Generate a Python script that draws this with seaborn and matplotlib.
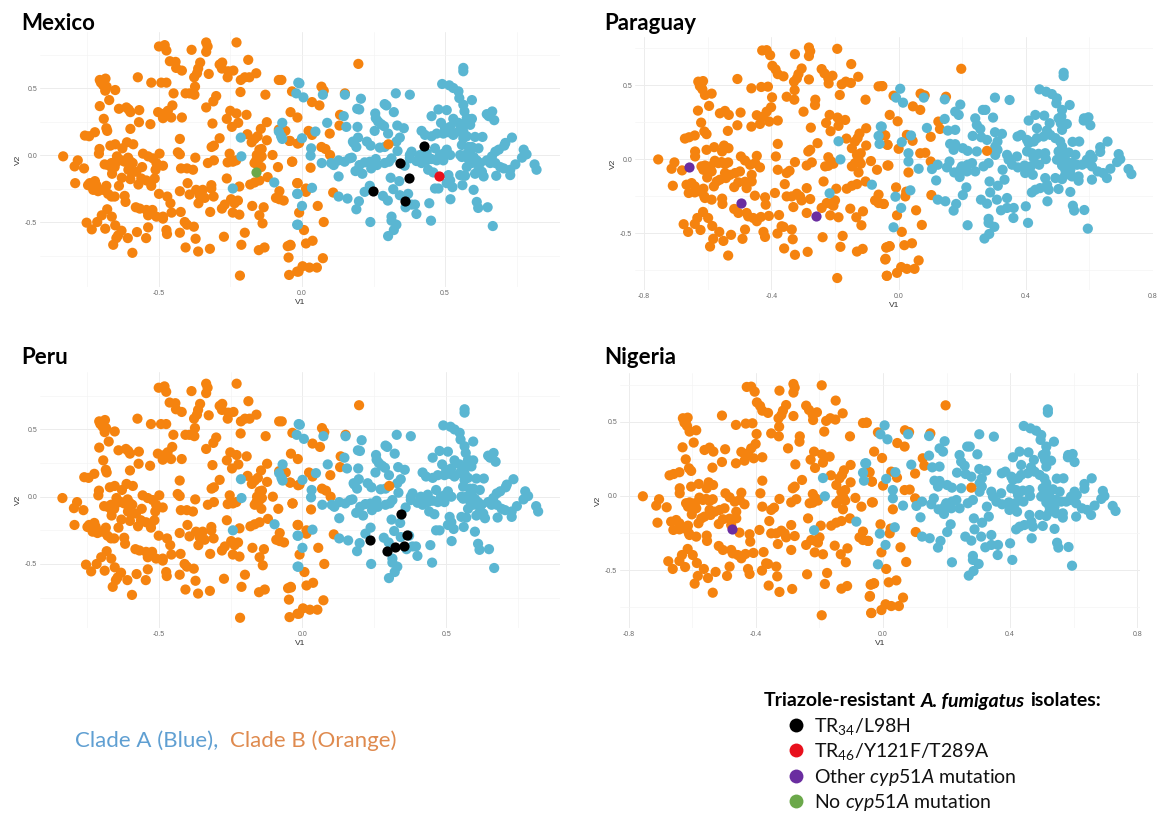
import matplotlib
matplotlib.use("Agg")
import matplotlib.pyplot as plt
from matplotlib.lines import Line2D
from matplotlib.ticker import FixedLocator
import pandas as pd
import seaborn as sns

# ---- values ----
# Projection shown in the Mexico and Peru panels
mx_clade_b = [(-.50,.81),(-.48,.82),(-.474,.78),(-.386,.785),(-.335,.84),(-.33,.81),(-.335,.77),(-.229,.84),(-.462,.70),(-.442,.695),(-.44,.65),(-.42,.63),(-.356,.69),(-.363,.645),(-.367,.61),(-.377,.58),(-.326,.605),(-.288,.675),(-.279,.69),(-.28,.645),(-.258,.625),(-.26,.58),(-.24,.63),(-.188,.71),(-.16,.61),(-.184,.58),(-.20,.58),(-.214,.56),(-.215,.47),(-.081,.56),(-.072,.56),(-.128,.45),(-.707,.56),(-.687,.57),(-.703,.54),(-.695,.52),(-.688,.48),(-.683,.51),(-.653,.485),(-.574,.58),(-.527,.54),(-.492,.54),(-.474,.54),(-.449,.46),(-.407,.46),(-.393,.46),(-.376,.45),(-.374,.51),(-.30,.44),(-.31,.40),(-.335,.355),(-.674,.41),(-.707,.365),(-.64,.345),(-.614,.355),(-.606,.34),(-.60,.32),(-.569,.335),(-.503,.32),(-.48,.31),(-.469,.33),(-.453,.37),(-.486,.275),(-.457,.28),(-.42,.28),(-.251,.33),(-.229,.31),(-.194,.30),(-.263,.27),(-.223,.24),(-.245,.21),(-.313,.235),(-.53,.23),(-.57,.245),(-.60,.195),(-.693,.27),(-.684,.20),(-.681,.18),(-.759,.145),(-.744,.14),(-.724,.17),(-.123,.245),(-.144,.195),(-.155,.14),(-.166,.12),(-.176,.095),(-.191,.155),(-.427,.12),(-.288,.125),(-.308,.07),(-.316,.06),(-.123,.11),(-.081,.19),(-.058,.18),(-.044,.105),(-.015,.085),(-.612,.095),(-.59,.08),(-.67,.07),(-.653,.08),(-.708,.045),(-.71,.01),(-.628,.05),(-.835,-.01),(-.784,-.04),(-.795,-.085),(-.762,-.10),(-.793,-.21),(-.69,-.07),(-.678,-.075),(-.666,-.06),(-.652,-.06),(-.647,-.01),(-.631,-.04),(-.62,-.05),(-.608,-.02),(-.599,-.05),(-.592,-.06),(-.664,-.10),(-.655,-.09),(-.664,-.14),(-.607,-.11),(-.595,-.13),(-.579,-.125),(-.559,-.09),(-.63,-.17),(-.60,-.18),(-.64,-.23),(-.572,-.22),(-.562,-.175),(-.544,-.19),(-.527,-.20),(-.515,-.175),(-.512,-.11),(-.486,-.08),(-.556,.01),(-.538,-.01),(-.521,-.025),(-.509,-.06),(-.498,.01),(-.527,-.23),(-.434,.02),(-.427,.005),(-.373,-.02),(-.423,-.10),(-.402,-.10),(-.381,-.11),(-.329,-.06),(-.308,-.04),(-.253,.01),(-.26,-.055),(-.242,-.05),(-.23,-.04),(-.158,0),(-.149,.04),(-.141,.045),(-.16,-.04),(-.149,-.025),(-.141,-.01),(-.166,-.06),(-.143,-.09),(-.103,0),(-.084,-.09),(-.035,-.05),(-.12,-.165),(-.263,-.175),(-.40,-.21),(-.427,-.27),(-.317,-.225),(-.317,-.25),(-.219,-.235),(-.181,-.22),(-.166,-.205),(-.149,-.19),(-.017,-.21),(-.079,-.27),(-.091,-.32),(-.079,-.33),(-.064,-.34),(-.50,-.29),(-.471,-.31),(-.46,-.36),(-.456,-.43),(-.424,-.425),(-.62,-.305),(-.617,-.35),(-.742,-.21),(-.724,-.195),(-.748,-.225),(-.73,-.26),(-.713,-.27),(-.695,-.26),(-.684,-.23),(-.678,-.29),(-.666,-.31),(-.655,-.31),(-.719,-.225),(-.393,-.295),(-.37,-.26),(-.347,-.26),(-.358,-.30),(-.362,-.36),(-.34,-.32),(-.309,-.31),(-.321,-.425),(-.28,-.40),(-.27,-.37),(-.248,-.33),(-.236,-.36),(-.224,-.34),(-.242,-.43),(-.219,-.445),(-.174,-.38),(-.134,-.39),(-.149,-.45),(-.138,-.51),(-.581,-.39),(-.567,-.40),(-.544,-.41),(-.523,-.41),(-.538,-.45),(-.509,-.46),(-.486,-.46),(-.486,-.475),(-.681,-.405),(-.70,-.45),(-.665,-.46),(-.753,-.505),(-.716,-.50),(-.735,-.555),(-.688,-.55),(-.653,-.525),(-.631,-.565),(-.643,-.60),(-.649,-.62),(-.609,-.62),(-.66,-.67),(-.593,-.73),(-.577,-.575),(-.545,-.62),(-.538,-.54),(-.474,-.56),(-.472,-.59),(-.427,-.58),(-.41,-.50),(-.402,-.52),(-.378,-.535),(-.372,-.625),(-.407,-.69),(-.363,-.72),(-.322,-.70),(-.273,-.61),(-.20,-.58),(-.212,-.67),(-.151,-.71),(-.131,-.69),(-.05,-.68),(-.041,-.67),(-.047,-.765),(-.217,-.90),(-.045,-.895),(-.017,-.87),(.197,.68),(.068,.51),(.076,.48),(.15,.46),(-.035,.475),(.035,.395),(.061,.37),(-.04,.32),(-.016,.28),(.133,.30),(.131,.22),(.023,.18),(.035,.15),(.097,.16),(-.01,.09),(-.042,.105),(.068,.06),(.082,.045),(.098,0),(-.034,-.05),(.03,-.095),(-.015,-.21),(.014,-.25),(.014,-.275),(.109,-.28),(.055,-.38),(-.01,-.43),(.076,-.50),(.007,-.56),(.014,-.66),(.037,-.64),(-.04,-.675),(.073,-.77),(.002,-.83),(.026,-.84),(.052,-.84),(-.012,-.87)]
mx_clade_b_front = [(.302,.08)]
mx_clade_a = [(-.214,.13),(-.212,-.01),(-.242,-.25),(-.097,-.205),(-.069,.24),(-.081,.175),(-.073,.14),(-.069,.12),(-.013,.54),(-.02,.46),(-.017,-.29),(-.017,-.52),(-.009,.535),(.005,.43),(.073,.45),(.15,.45),(.206,.42),(.328,.46),(.377,.45),(.564,.65),(.564,.625),(.49,.53),(.515,.52),(.529,.50),(.547,.475),(.55,.425),(.564,.375),(.568,.325),(.576,.275),(.594,.27),(.594,.41),(.289,.38),(.295,.37),(.193,.345),(.20,.34),(.321,.32),(.256,.31),(.258,.275),(.266,.25),(.277,.23),(.287,.215),(.146,.29),(.088,.24),(.155,.21),(.194,.21),(.254,.18),(.301,.16),(.333,.22),(.356,.20),(.342,.13),(.33,.10),(.047,.175),(0,.125),(.032,.05),(.03,-.005),(.069,-.06),(.102,-.06),(.111,-.075),(.128,-.04),(.149,-.05),(.166,-.025),(.174,-.02),(.128,-.16),(.178,.10),(.196,.13),(.181,.09),(.19,.06),(.227,.10),(.24,.07),(.272,.055),(.289,.06),(.201,-.075),(.219,-.055),(.237,-.05),(.258,-.03),(.262,-.075),(.242,-.10),(.187,-.12),(.211,-.14),(.289,-.06),(.304,-.05),(.313,-.025),(.334,.03),(.359,-.08),(.377,0),(.383,.025),(.377,-.025),(.40,-.045),(.418,-.06),(.436,-.04),(.453,-.03),(.471,-.04),(.494,-.04),(.412,0),(.436,.015),(.465,.05),(.482,0),(.506,.04),(.518,0),(.441,-.11),(.459,-.13),(.494,.01),(.418,.18),(.43,.15),(.453,.14),(.471,.16),(.494,.16),(.512,.17),(.529,.15),(.547,.175),(.564,.175),(.576,.14),(.564,.125),(.453,.29),(.477,.34),(.506,.335),(.486,.24),(.529,.27),(.518,.21),(.547,.24),(.564,.225),(.588,.225),(.50,.20),(.605,.135),(.631,.135),(.646,.305),(.665,.325),(.653,.29),(.672,.26),(.734,.13),(.711,.09),(.707,.07),(.775,.04),(.785,.005),(.769,-.02),(.559,.075),(.582,.06),(.594,.06),(.617,.05),(.553,0),(.57,0),(.588,.025),(.6,-.015),(.559,-.015),(.582,-.03),(.594,-.06),(.611,-.04),(.623,-.06),(.576,-.09),(.605,-.14),(.635,-.16),(.629,-.125),(.617,-.11),(.646,-.04),(.664,-.01),(.676,.025),(.688,.04),(.658,-.06),(.676,-.06),(.693,-.09),(.705,-.10),(.728,-.11),(.746,-.07),(.728,-.15),(.679,-.155),(.813,-.07),(.82,-.11),(.553,-.15),(.57,-.155),(.512,-.15),(.518,-.19),(.506,-.21),(.526,-.24),(.477,-.25),(.465,-.25),(.561,-.225),(.6,-.26),(.519,-.33),(.445,-.36),(.611,-.35),(.616,-.395),(.649,-.39),(.451,-.49),(.40,-.44),(.667,-.53),(.31,-.17),(.34,-.195),(.319,-.255),(.237,-.23),(.219,-.275),(.283,-.305),(.30,-.34),(.342,-.30),(.371,-.29),(.199,-.345),(.19,-.405),(.159,-.325),(.128,-.31),(.035,-.245),(-.015,-.29),(.362,-.39),(.383,-.37),(.395,-.37),(0,-.38),(-.014,-.52),(.239,-.50),(.313,-.46),(.313,-.49),(.33,-.52),(.321,-.56),(.301,-.605)]

# Projection shown in the Paraguay and Nigeria panels
pa_clade_b = [(-.429,.735),(-.415,.737),(-.404,.703),(-.326,.71),(-.282,.755),(-.278,.73),(-.282,.697),(-.193,.746),(-.397,.631),(-.387,.607),(-.38,.575),(-.362,.56),(-.305,.613),(-.315,.575),(-.32,.546),(-.329,.524),(-.282,.539),(-.242,.609),(-.233,.58),(-.221,.546),(-.22,.512),(-.208,.564),(-.149,.643),(-.127,.557),(-.179,.506),(-.166,.524),(-.15,.515),(-.063,.492),(-.053,.494),(-.507,.542),(-.463,.479),(-.432,.488),(-.411,.49),(-.327,.467),(-.398,.418),(-.352,.422),(-.328,.402),(-.262,.402),(-.263,.366),(-.185,.434),(-.104,.402),(-.63,.524),(-.615,.528),(-.625,.494),(-.617,.472),(-.609,.434),(-.588,.443),(-.62,.512),(-.596,.36),(-.631,.328),(-.562,.31),(-.546,.326),(-.534,.299),(-.497,.315),(-.299,.321),(-.446,.297),(-.425,.288),(-.415,.321),(-.401,.351),(-.436,.238),(-.407,.254),(-.38,.261),(-.463,.22),(-.507,.229),(-.537,.191),(-.217,.299),(-.192,.281),(-.168,.265),(-.228,.245),(-.189,.225),(-.214,.189),(-.276,.213),(-.102,.209),(-.123,.173),(-.129,.142),(-.137,.119),(-.147,.074),(-.164,.139),(-.102,.092),(-.621,.247),(-.611,.187),(-.604,.169),(-.672,.139),(-.659,.148),(-.641,.16),(-.255,.108),(-.38,.103),(-.278,.063),(-.284,.052),(-.042,.16),(-.035,.097),(-.64,.052),(-.64,.018),(-.604,.063),(-.58,.081),(-.549,.092),(-.535,.074),(-.555,.052),(-.756,-.002),(-.705,-.022),(-.714,-.065),(-.681,-.076),(-.71,-.18),(-.62,-.049),(-.609,-.043),(-.599,-.061),(-.614,-.072),(-.602,-.124),(-.588,-.083),(-.578,-.011),(-.567,-.027),(-.557,-.02),(-.546,-.034),(-.536,-.022),(-.592,-.049),(-.546,-.094),(-.53,-.106),(-.514,-.094),(-.499,-.083),(-.543,-.128),(-.562,-.139),(-.572,-.151),(-.581,-.184),(-.517,-.189),(-.504,-.157),(-.483,-.153),(-.478,-.196),(-.462,-.151),(-.462,-.106),(-.496,.018),(-.483,-.009),(-.467,-.038),(-.446,.022),(-.451,-.027),(-.436,-.056),(-.386,.018),(-.38,-.072),(-.352,-.094),(-.343,-.079),(-.326,-.02),(-.289,-.043),(-.273,-.022),(-.358,-.169),(-.389,-.229),(-.236,-.151),(-.196,-.2),(-.163,-.2),(-.147,-.18),(-.131,-.169),(-.104,-.151),(-.221,.013),(-.212,-.016),(-.231,-.049),(-.221,-.045),(-.205,-.031),(-.131,.029),(-.119,.04),(-.126,-.004),(-.137,-.027),(-.147,-.049),(-.119,-.031),(-.126,-.09),(-.087,-.013),(-.068,-.072),(-.035,-.043),(-.063,-.24),(-.074,-.279),(-.063,-.297),(-.047,-.303),(-.667,-.173),(-.651,-.162),(-.641,-.184),(-.66,-.229),(-.641,-.225),(-.625,-.218),(-.614,-.2),(-.609,-.263),(-.588,-.274),(-.611,-.252),(-.555,-.267),(-.554,-.303),(-.452,-.247),(-.42,-.258),(-.418,-.308),(-.408,-.384),(-.376,-.378),(-.433,-.391),(-.352,-.252),(-.336,-.252),(-.32,-.234),(-.31,-.252),(-.305,-.279),(-.289,-.196),(-.331,-.324),(-.278,-.27),(-.289,-.364),(-.242,-.33),(-.226,-.297),(-.215,-.301),(-.2,-.279),(-.205,-.315),(-.215,-.38),(-.189,-.393),(-.152,-.335),(-.112,-.353),(-.133,-.393),(-.117,-.447),(-.517,-.337),(-.504,-.364),(-.478,-.364),(-.473,-.387),(-.457,-.398),(-.446,-.42),(-.615,-.357),(-.633,-.398),(-.599,-.398),(-.676,-.44),(-.662,-.492),(-.641,-.438),(-.623,-.479),(-.586,-.452),(-.564,-.492),(-.527,-.512),(-.583,-.539),(-.551,-.553),(-.593,-.591),(-.536,-.652),(-.483,-.476),(-.491,-.539),(-.425,-.492),(-.42,-.526),(-.381,-.503),(-.368,-.454),(-.362,-.458),(-.336,-.476),(-.333,-.542),(-.36,-.604),(-.326,-.647),(-.286,-.627),(-.239,-.528),(-.176,-.519),(-.183,-.593),(-.131,-.625),(-.113,-.607),(-.039,-.598),(-.029,-.589),(-.042,-.679),(-.193,-.804),(-.037,-.789),(.197,.611),(-.051,.494),(-.016,.429),(.069,.443),(.082,.431),(.149,.422),(.045,.357),(.068,.333),(-.028,.299),(-.003,.256),(.125,.254),(.13,.204),(.026,.164),(.044,.124),(.101,.151),(-.045,.162),(-.035,.097),(0,.07),(.068,.04),(.084,.043),(.101,-.016),(-.032,-.043),(.031,-.09),(-.008,-.191),(.024,-.22),(.021,-.252),(.103,-.243),(.055,-.346),(-.047,-.303),(-.005,-.38),(.073,-.445),(.01,-.492),(-.037,-.596),(-.028,-.589),(.018,-.582),(.042,-.569),(.063,-.685),(-.041,-.674),(-.005,-.769),(.008,-.73),(.026,-.742),(.05,-.742),(-.037,-.789)]
pa_clade_b_front = [(.278,.056)]
pa_clade_a = [(-.189,.121),(-.183,-.002),(-.217,-.231),(-.084,-.173),(-.056,.22),(-.063,.157),(-.06,.103),(.005,.476),(-.008,.416),(.014,.382),(.079,.416),(.145,.404),(.194,.369),(.303,.416),(.349,.4),(.519,.584),(.519,.562),(.443,.472),(.464,.456),(.482,.44),(.498,.411),(.496,.378),(.514,.333),(.512,.288),(.51,.243),(.514,.198),(.538,.366),(.178,.321),(.189,.299),(.265,.333),(.273,.333),(.297,.281),(.241,.276),(.246,.231),(.257,.204),(.145,.272),(.089,.211),(.155,.193),(.178,.198),(.233,.157),(.26,.148),(.278,.13),(.303,.182),(.325,.171),(.311,.119),(.304,.085),(-.053,.22),(.039,.16),(.01,.115),(.031,.04),(.031,-.016),(.063,-.065),(.105,-.067),(.123,-.038),(.118,-.144),(.162,.103),(.178,.101),(.173,.063),(.202,.074),(.217,.056),(.246,.052),(.16,-.016),(.152,-.056),(.175,-.09),(.194,-.072),(.199,-.049),(.217,-.038),(.231,-.027),(.241,-.083),(.215,-.083),(.192,-.121),(.267,-.049),(.283,-.027),(.304,.029),(.311,.063),(.327,-.072),(.333,-.139),(.341,.029),(.346,-.004),(.357,-.038),(.375,-.056),(.396,-.043),(.416,-.049),(.442,-.038),(.372,.018),(.404,.052),(.419,.04),(.44,.036),(.461,.04),(.463,0),(.425,.007),(.398,-.094),(.422,-.106),(.374,.153),(.385,.164),(.404,.13),(.409,.108),(.425,.119),(.435,.142),(.456,.153),(.477,.164),(.493,.142),(.508,.119),(.514,.085),(.409,.261),(.43,.299),(.458,.294),(.435,.209),(.475,.243),(.466,.193),(.529,.238),(.503,.276),(.547,.117),(.568,.119),(.583,.276),(.597,.283),(.582,.261),(.603,.229),(.657,.119),(.634,.081),(.634,.049),(.692,.034),(.697,0),(.687,-.02),(.503,.052),(.519,.029),(.535,.045),(.556,.029),(.498,-.004),(.514,-.004),(.529,-.016),(.545,-.027),(.561,-.038),(.514,-.043),(.54,-.072),(.524,-.072),(.524,-.106),(.545,-.117),(.566,-.146),(.566,-.117),(.577,-.038),(.592,-.027),(.603,.029),(.61,.007),(.592,-.004),(.608,-.049),(.626,-.083),(.643,-.094),(.666,-.065),(.655,-.128),(.608,-.139),(.723,-.067),(.732,-.101),(.493,-.128),(.514,-.135),(.461,-.128),(.467,-.173),(.445,-.196),(.472,-.207),(.43,-.207),(.419,-.225),(.503,-.202),(.54,-.222),(.468,-.285),(.4,-.319),(.548,-.315),(.552,-.348),(.584,-.344),(.407,-.431),(.361,-.398),(.595,-.47),(.286,-.151),(.312,-.18),(.288,-.225),(.213,-.191),(.202,-.243),(.259,-.274),(.278,-.301),(.309,-.274),(.341,-.263),(.181,-.303),(.173,-.348),(.147,-.285),(.123,-.274),(.037,-.211),(-.01,-.254),(.322,-.346),(.341,-.33),(.362,-.33),(.008,-.33),(-.016,-.461),(.217,-.447),(.283,-.404),(.283,-.431),(.301,-.458),(.285,-.506),(.27,-.537)]

# Triazole-resistant isolates per country
mexico_tr34 = [(.426,.07),(.344,-.06),(.374,-.17),(.249,-.265),(.359,-.34)]
mexico_tr46 = [(.478,-.155)]
mexico_none = [(-.16,-.13)]
peru_tr34 = [(.343,-.129),(.236,-.324),(.365,-.282),(.321,-.376),(.353,-.369),(.294,-.404)]
paraguay_other = [(-.658,-.056),(-.497,-.299),(-.259,-.387)]
nigeria_other = [(-.475,-.223)]

legend_labels = [r"$\mathrm{TR_{34}/L98H}$",
                 r"$\mathrm{TR_{46}/Y121F/T289A}$",
                 r"$\mathrm{Other}\ \mathit{cyp51A}\ \mathrm{mutation}$",
                 r"$\mathrm{No}\ \mathit{cyp51A}\ \mathrm{mutation}$"]
ORANGE, BLUE = "#F5830F", "#5AB6D2"
BLACK, RED, PURPLE, GREEN = "#000000", "#E8101C", "#6A2DA0", "#6BA84A"
legend_colors = [BLACK, RED, PURPLE, GREEN]

# ---- figure ----
W, H = 1161, 814
sns.set_theme(style="white")
plt.rcParams.update({
    "mathtext.fontset": "custom", "mathtext.rm": "Lato", "mathtext.it": "Lato:italic",
    "mathtext.bf": "Lato:bold", "mathtext.bfit": "Lato:italic:bold",
    "font.family": ["Liberation Sans", "DejaVu Sans"],
})
fig = plt.figure(figsize=(W / 100, H / 100), dpi=100, facecolor="white")


def frame(clade_a, clade_b, clade_b_front):
    rows = [(x, y, "B") for x, y in clade_b] + [(x, y, "A") for x, y in clade_a] \
        + [(x, y, "B") for x, y in clade_b_front]
    return pd.DataFrame(rows, columns=["V1", "V2", "Clade"])


def panel(box, xlim, ylim, xmajor, xminor, title, title_xy, points, isolates):
    l, t, r, b = box
    ax = fig.add_axes([l / W, 1 - b / H, (r - l) / W, (b - t) / H])
    ax.set_axisbelow(True)
    sns.scatterplot(data=points, x="V1", y="V2", hue="Clade", palette={"A": BLUE, "B": ORANGE},
                    s=54, linewidth=0, alpha=1, legend=False, ax=ax, zorder=3)
    for vals, col in isolates:
        iso = pd.DataFrame(vals, columns=["V1", "V2"])
        sns.scatterplot(data=iso, x="V1", y="V2", color=col, s=54, linewidth=0, legend=False, ax=ax, zorder=4)
    ax.set_xlim(*xlim)
    ax.set_ylim(*ylim)
    ax.xaxis.set_major_locator(FixedLocator(xmajor))
    ax.xaxis.set_minor_locator(FixedLocator(xminor))
    ax.yaxis.set_major_locator(FixedLocator([-.5, 0, .5]))
    ax.yaxis.set_minor_locator(FixedLocator([-.75, -.25, .25, .75]))
    ax.set_xticklabels([f"{v:.1f}" for v in xmajor])
    ax.set_yticklabels([f"{v:.1f}" for v in [-.5, 0, .5]])
    ax.grid(True, which="major", color="#ececec", lw=0.7)
    ax.grid(True, which="minor", color="#f4f4f4", lw=0.5)
    ax.tick_params(which="both", length=0, labelsize=5, labelcolor="#6a6a6a", pad=2)
    ax.set_xlabel("V1", fontsize=6, color="#333333", labelpad=1.5)
    ax.set_ylabel("V2", fontsize=6, color="#333333", labelpad=2)
    for s in ax.spines.values():
        s.set_visible(False)
    fig.text(title_xy[0] / W, 1 - title_xy[1] / H, title, family="Lato", weight="bold",
             fontsize=16, color="black", va="center", ha="left")


mx = frame(mx_clade_a, mx_clade_b, mx_clade_b_front)
pa = frame(pa_clade_a, pa_clade_b, pa_clade_b_front)
t_mx, m_mx = [-.5, 0, .5], [-.75, -.25, .25, .75]
t_pa, m_pa = [-.8, -.4, 0, .4, .8], [-.6, -.2, .2, .6]

panel((40, 32, 560, 287), (-.916, .902), (-.985, .918), t_mx, m_mx, "Mexico", (21, 24), mx,
      [(mexico_tr34, BLACK), (mexico_tr46, RED), (mexico_none, GREEN)])
panel((635, 37, 1153, 290), (-.829, .80), (-.885, .826), t_pa, m_pa, "Paraguay", (604, 24), pa,
      [(paraguay_other, PURPLE)])
panel((40, 372, 560, 628), (-.913, .896), (-.976, .927), t_mx, m_mx, "Peru", (21, 358), mx,
      [(peru_tr34, BLACK)])
panel((620, 373, 1140, 628), (-.828, .809), (-.89, .829), t_pa, m_pa, "Nigeria", (604, 358), pa,
      [(nigeria_other, PURPLE)])

# ---- captions and key ----
fig.text(75 / W, 1 - 741 / H, "Clade A (Blue),", family="Lato", fontsize=16, color="#5F9FD2", va="center")
fig.text(230 / W, 1 - 741 / H, "Clade B (Orange)", family="Lato", fontsize=16, color="#DF8A4E", va="center")

renderer = fig.canvas.get_renderer()
cursor = 764
for piece, style, gap in [("Triazole-resistant", "normal", 5), ("A. fumigatus", "italic", 5), ("isolates:", "normal", 0)]:
    t = fig.text(cursor / W, 1 - 701 / H, piece, family="Lato", weight="bold", style=style,
                 fontsize=14, color="black", va="center", ha="left")
    cursor = t.get_window_extent(renderer).x1 + gap

handles = [Line2D([], [], marker="o", ls="", color=c, markersize=10, markeredgewidth=0) for c in legend_colors]
fig.legend(handles, legend_labels, loc="upper left", bbox_to_anchor=(786 / W, 1 - 716 / H), frameon=False,
           borderpad=0, borderaxespad=0, fontsize=14, labelspacing=0.22, handletextpad=0.44,
           handlelength=1.0, labelcolor="#111111")

fig.savefig("out.png", dpi=100)
